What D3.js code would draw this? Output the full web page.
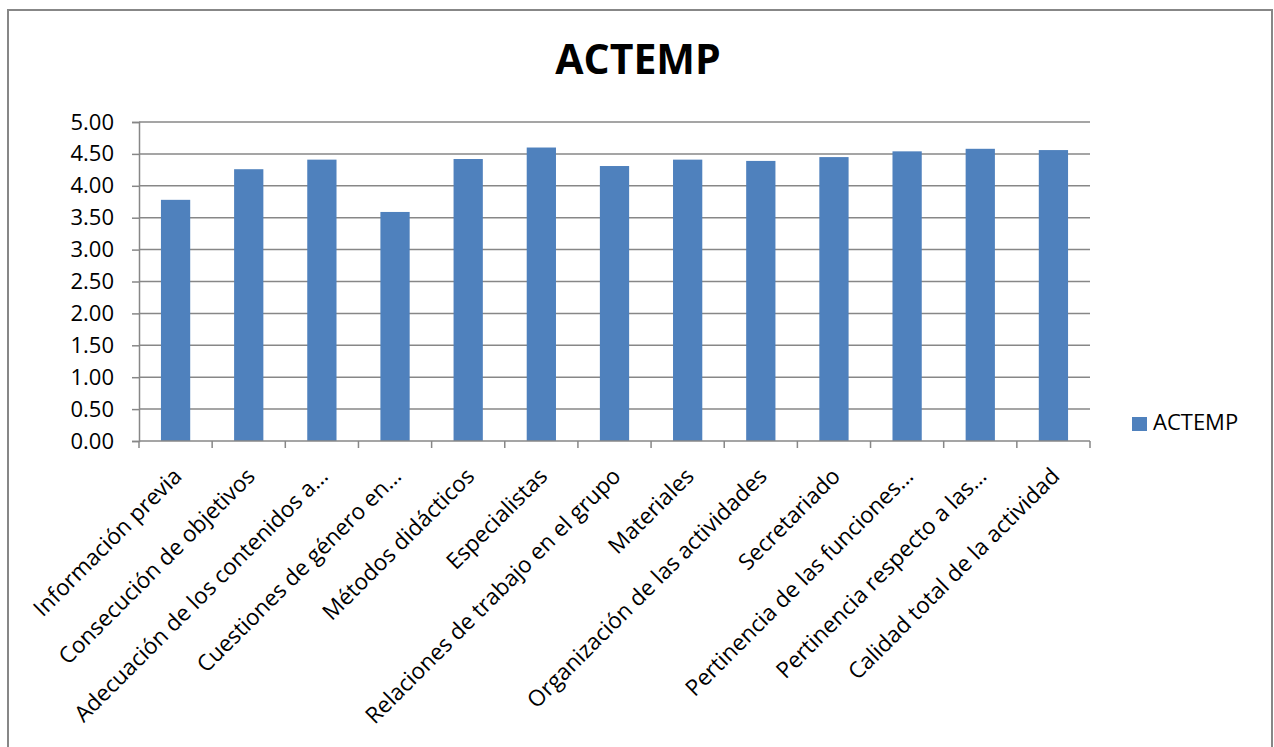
<!DOCTYPE html>
<html>
<head>
<meta charset="utf-8">
<script src="https://cdn.jsdelivr.net/npm/d3@7"></script>
<style>
  body { margin: 0; background: #fff; }
  text { font-family: "Open Sans", sans-serif; fill: #000; }
</style>
</head>
<body>
<svg id="chart" width="1274" height="747"></svg>
<script>

// data
var categories = [
    "Información previa",
    "Consecución de objetivos",
    "Adecuación de los contenidos a…",
    "Cuestiones de género en…",
    "Métodos didácticos",
    "Especialistas",
    "Relaciones de trabajo en el grupo",
    "Materiales",
    "Organización de las actividades",
    "Secretariado",
    "Pertinencia de las funciones…",
    "Pertinencia respecto a las…",
    "Calidad total de la actividad"
];
var values = [3.78, 4.26, 4.41, 3.59, 4.42, 4.60, 4.31, 4.41, 4.39, 4.45, 4.54, 4.58, 4.56];
var yTicks = [0, 0.5, 1, 1.5, 2, 2.5, 3, 3.5, 4, 4.5, 5];
var seriesName = "ACTEMP";

var svg = d3.select("#chart");
var grey = "#878787";
var barColor = "#4F81BD";

// outer frame
svg.append("rect")
    .attr("x", 8).attr("y", 10)
    .attr("width", 1264).attr("height", 760)
    .style("fill", "none")
    .style("stroke", grey)
    .style("stroke-width", 2);

// plot box (don't call it "top", window.top is taken)
var plotL = 139, plotR = 1090, plotT = 122, plotB = 441;

var x = d3.scaleBand()
    .domain(categories)
    .range([plotL, plotR])
    .paddingInner(0.6)
    .paddingOuter(0.3);

var y = d3.scaleLinear()
    .domain([0, 5])
    .range([plotB, plotT]);

// gridlines
svg.append("g")
    .selectAll("line")
    .data(yTicks.filter(function(d){ return d > 0; }))
    .enter().append("line")
    .attr("x1", plotL).attr("x2", plotR)
    .attr("y1", function(d){ return y(d); })
    .attr("y2", function(d){ return y(d); })
    .style("stroke", grey)
    .style("stroke-width", 1.5);

// bars
svg.append("g")
    .selectAll("rect")
    .data(values)
    .enter().append("rect")
    .attr("x", function(d, i){ return x(categories[i]); })
    .attr("width", x.bandwidth())
    .attr("y", function(d){ return y(d); })
    .attr("height", function(d){ return y(0) - y(d); })
    .style("fill", barColor);

// y axis
var yAxis = svg.append("g")
    .attr("transform", "translate(" + plotL + ",0)")
    .call(d3.axisLeft(y).tickValues(yTicks).tickFormat(d3.format(".2f")).tickSizeOuter(0).tickSize(7).tickPadding(18));
yAxis.select(".domain").style("stroke", grey).style("stroke-width", 1.5);
yAxis.selectAll(".tick line").style("stroke", grey).style("stroke-width", 1.5);
yAxis.selectAll(".tick text")
    .style("font-size", "22px")
    .style("font-family", "'Open Sans', sans-serif")
    .attr("fill", "#000");

// x axis line + ticks at category boundaries
var bounds = d3.range(categories.length + 1).map(function(i){ return plotL + i * (plotR - plotL) / categories.length; });
svg.append("line")
    .attr("x1", plotL).attr("x2", plotR)
    .attr("y1", plotB).attr("y2", plotB)
    .style("stroke", grey).style("stroke-width", 1.5);
svg.append("g")
    .selectAll("line")
    .data(bounds)
    .enter().append("line")
    .attr("x1", function(d){ return d; }).attr("x2", function(d){ return d; })
    .attr("y1", plotB).attr("y2", plotB + 7)
    .style("stroke", grey).style("stroke-width", 1.5);

// rotated category labels
svg.append("g")
    .selectAll("text")
    .data(categories)
    .enter().append("text")
    .attr("transform", function(d){
        return "translate(" + (x(d) + x.bandwidth() / 2 + 2) + "," + 472 + ") rotate(-45)";
    })
    .attr("text-anchor", "end")
    .attr("dy", "0.35em")
    .style("font-size", "22.5px")
    .text(function(d){ return d; });

// title
svg.append("text")
    .attr("x", 638).attr("y", 74)
    .attr("text-anchor", "middle")
    .style("font-size", "41px")
    .style("font-weight", "bold")
    .text(seriesName);

// legend
svg.append("rect")
    .attr("x", 1132).attr("y", 417)
    .attr("width", 15).attr("height", 14)
    .style("fill", barColor);
svg.append("text")
    .attr("x", 1153).attr("y", 430)
    .style("font-size", "22px")
    .text(seriesName);

</script>
</body>
</html>
